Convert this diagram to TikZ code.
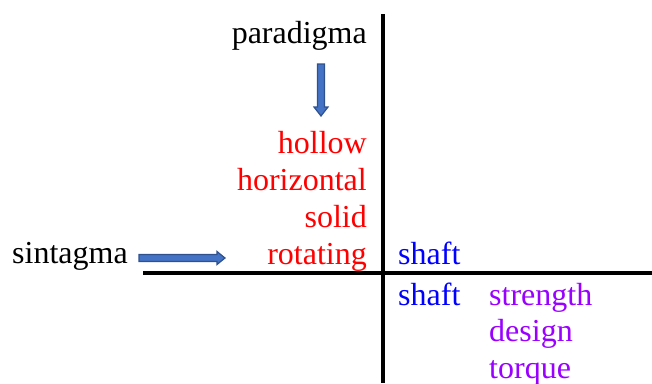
\documentclass[tikz,border=0pt]{standalone}
\usepackage{fontspec}
\setmainfont{Liberation Serif}
\definecolor{arrfill}{RGB}{68,114,196}
\definecolor{arrdraw}{RGB}{47,82,143}
\definecolor{mypurple}{RGB}{153,0,255}
\begin{document}
\begin{tikzpicture}[x=1pt,y=-1pt,
  lbl/.style={inner sep=0pt,font=\fontsize{32}{38}\selectfont},
  bigarrow/.style={fill=arrfill,draw=arrdraw,line width=1.2pt,line join=miter}]
\useasboundingbox (0,0) rectangle (652,383);
% axes
\coordinate (vtop) at (383,14);
\coordinate (vbot) at (383,383);
\coordinate (hleft) at (143,273);
\coordinate (hright) at (652,273);
\draw[line width=4pt] (vtop) -- (vbot);
\draw[line width=4pt] (hleft) -- (hright);
% texts
\node[lbl,anchor=base east] (para) at (367,43) {paradigma};
\node[lbl,anchor=base west] (sint) at (12,263) {sintagma};
\node[lbl,anchor=base east,text=red] (hol) at (367,153) {hollow};
\node[lbl,anchor=base east,text=red] (hor) at (367,190) {horizontal};
\node[lbl,anchor=base east,text=red] (sol) at (367,227) {solid};
\node[lbl,anchor=base east,text=red] (rot) at (367,264) {rotating};
\node[lbl,anchor=base west,text=blue] (sh1) at (398,264) {shaft};
\node[lbl,anchor=base west,text=blue] (sh2) at (398,305) {shaft};
\node[lbl,anchor=base west,text=mypurple] (str) at (489,305) {strength};
\node[lbl,anchor=base west,text=mypurple] (des) at (489,341) {design};
\node[lbl,anchor=base west,text=mypurple] (tor) at (489,378) {torque};
% block arrows
\draw[bigarrow] (317.5,64) -- (324.5,64) -- (324.5,107) -- (328,107) -- (321,116) -- (314,107) -- (317.5,107) -- cycle;
\draw[bigarrow] (139,254.5) -- (217,254.5) -- (217,251.5) -- (225,258) -- (217,264.5) -- (217,261.5) -- (139,261.5) -- cycle;
\end{tikzpicture}
\end{document}
